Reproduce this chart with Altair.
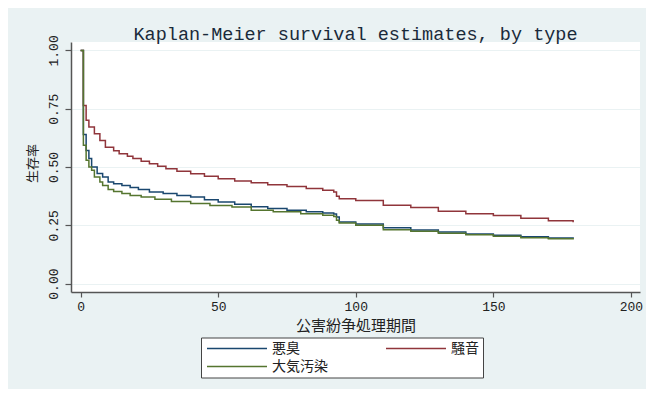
import altair as alt
import pandas as pd

series_names = ["悪臭", "騒音", "大気汚染"]
series_colors = ["#1a476f", "#90353b", "#55752f"]

# 悪臭 (blue)
t_akushu = [0, 1, 2, 3, 4, 6, 8, 10, 12, 15, 18, 21, 25, 30, 35, 40, 45, 50, 56, 62, 68, 75, 82, 88, 92, 93, 94, 100, 110, 120, 130, 140, 150, 160, 170, 179]
s_akushu = [1.0, 0.639, 0.571, 0.536, 0.50, 0.472, 0.457, 0.436, 0.428, 0.421, 0.412, 0.403, 0.393, 0.386, 0.378, 0.371, 0.360, 0.350, 0.340, 0.330, 0.322, 0.315, 0.308, 0.303, 0.298, 0.286, 0.264, 0.256, 0.240, 0.230, 0.221, 0.213, 0.207, 0.201, 0.196, 0.193]

# 騒音 (red)
t_souon = [0, 1, 2, 3, 5, 7, 9, 12, 14, 17, 19, 22, 25, 28, 31, 35, 40, 45, 50, 56, 62, 68, 75, 82, 88, 92, 93, 94, 100, 110, 120, 130, 140, 150, 160, 170, 179]
s_souon = [1.0, 0.764, 0.70, 0.671, 0.643, 0.614, 0.585, 0.570, 0.557, 0.546, 0.536, 0.525, 0.514, 0.503, 0.493, 0.482, 0.471, 0.460, 0.450, 0.440, 0.432, 0.424, 0.416, 0.408, 0.400, 0.393, 0.375, 0.364, 0.356, 0.336, 0.326, 0.310, 0.300, 0.292, 0.280, 0.270, 0.263]

# 大気汚染 (green)
t_taiki = [0, 1, 2, 3, 4, 5, 7, 8, 10, 12, 15, 18, 22, 27, 33, 40, 47, 55, 62, 70, 80, 88, 92, 93, 94, 100, 110, 120, 130, 140, 150, 160, 170, 179]
s_taiki = [1.0, 0.593, 0.529, 0.50, 0.486, 0.457, 0.436, 0.421, 0.403, 0.395, 0.386, 0.378, 0.371, 0.362, 0.352, 0.343, 0.335, 0.328, 0.315, 0.308, 0.300, 0.293, 0.288, 0.272, 0.260, 0.250, 0.231, 0.224, 0.216, 0.209, 0.203, 0.197, 0.192, 0.189]

x_ticks = [0, 50, 100, 150, 200]
y_ticks = [0.0, 0.25, 0.5, 0.75, 1.0]

rows = []
for name, ts, ss in [("悪臭", t_akushu, s_akushu), ("騒音", t_souon, s_souon), ("大気汚染", t_taiki, s_taiki)]:
    for t, s in zip(ts, ss):
        rows.append({"type": name, "time": t, "surv": s})
df = pd.DataFrame(rows)

BG = "#eaf2f3"
AXIS = "#555555"

chart = alt.Chart(df).mark_line(interpolate="step-after", strokeWidth=1.5).encode(
    x=alt.X("time:Q",
            scale=alt.Scale(domain=[-3.5, 203.3], nice=False, zero=False),
            axis=alt.Axis(values=x_ticks, title="公害紛争処理期間", grid=False,
                          labelFont="Liberation Mono", labelFontSize=13, labelColor="#222",
                          labelPadding=3, tickSize=5, tickColor=AXIS, domainColor=AXIS,
                          domainWidth=1.5, tickWidth=1.2,
                          titleFont="Noto Sans CJK JP", titleFontSize=15, titleFontWeight="normal",
                          titleColor="#222", titlePadding=5)),
    y=alt.Y("surv:Q",
            scale=alt.Scale(domain=[-0.036, 1.036], nice=False, zero=False),
            axis=alt.Axis(values=y_ticks, format=".2f", title="生存率", grid=True,
                          gridColor=BG, gridWidth=1.2,
                          labelAngle=270, labelAlign="center", labelBaseline="bottom",
                          labelFont="Liberation Mono", labelFontSize=13, labelColor="#222",
                          labelPadding=5, tickSize=6, tickColor=AXIS, domainColor=AXIS,
                          domainWidth=1.5, tickWidth=1.2,
                          titleFont="Noto Sans CJK JP", titleFontSize=13, titleFontWeight="normal",
                          titleColor="#222", titleAngle=270, titleAlign="center",
                          titleBaseline="middle", titleX=-39, titleY=121)),
    color=alt.Color("type:N",
                    scale=alt.Scale(domain=series_names, range=series_colors),
                    legend=alt.Legend(title=None, orient="none", legendX=130, legendY=295.5,
                                      direction="horizontal", columns=2,
                                      symbolType="M-1,0H11", symbolSize=100,
                                      symbolStrokeWidth=1.5, labelFont="Noto Sans CJK JP",
                                      labelFontSize=14, labelColor="#222", labelOffset=53,
                                      padding=4, fillColor="white", strokeColor="#444",
                                      rowPadding=4, columnPadding=55, gridAlign="each")),
).properties(
    width=569,
    height=250,
    title=alt.TitleParams("Kaplan-Meier survival estimates, by type",
                          font="Liberation Mono", fontSize=18.5, fontWeight="normal",
                          color="#1a2a3a", anchor="middle", frame="group",
                          baseline="bottom", offset=4, dy=32),
    autosize=alt.AutoSizeParams(type="none"),
    padding={"left": 63, "top": 34, "right": 6, "bottom": 97},
    background=BG,
).configure_view(fill="white", stroke=None)

chart.save("out.html", embed_options={"renderer": "svg", "actions": False})
